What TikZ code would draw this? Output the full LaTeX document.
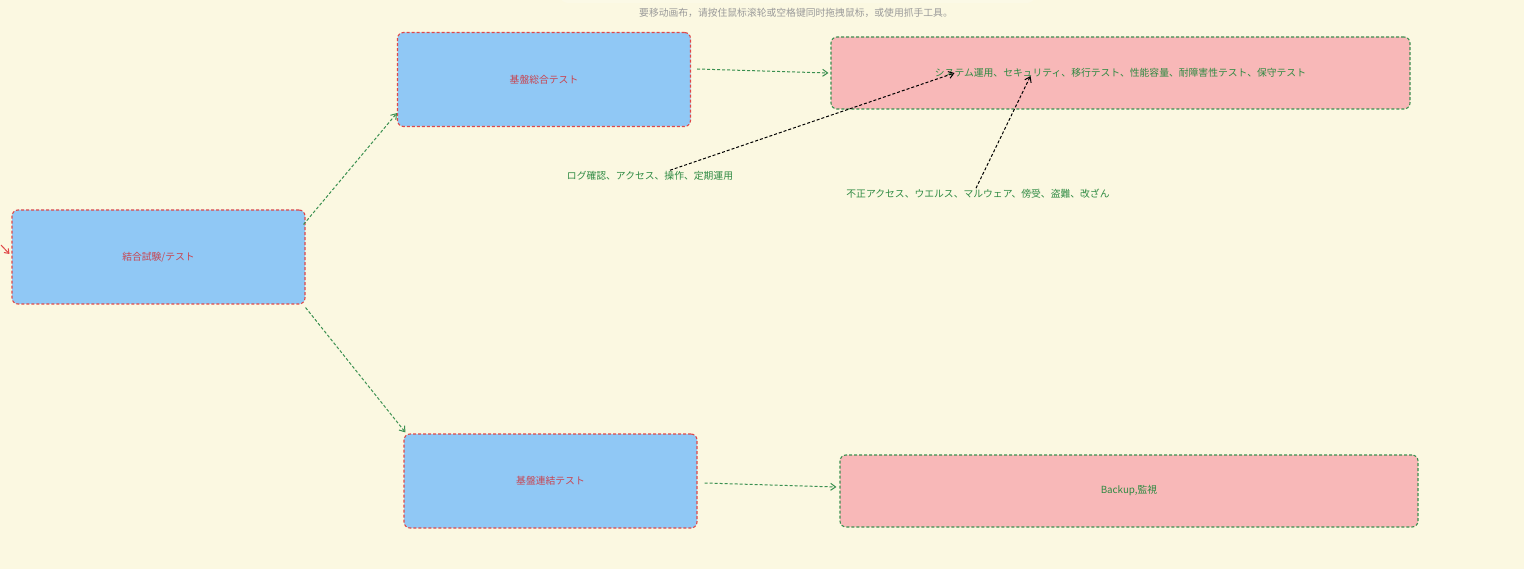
\documentclass[tikz,border=0pt]{standalone}
\usepackage{fontspec}
\setmainfont{Noto Sans CJK JP}
\newfontfamily\scfont{Noto Sans CJK SC}
\usetikzlibrary{arrows.meta,calc}
\definecolor{bgc}{HTML}{FBF8E1}
\definecolor{bluefill}{HTML}{90C8F5}
\definecolor{redline}{HTML}{E04848}
\definecolor{redtext}{HTML}{C84450}
\definecolor{pinkfill}{HTML}{F8B8B8}
\definecolor{greenline}{HTML}{3A9050}
\definecolor{greentext}{HTML}{2E8A42}
\definecolor{greytext}{HTML}{9A9A9A}
\tikzset{
  every node/.style={font=\fontsize{9.8}{12}\selectfont},
  bluebox/.style={draw=redline, fill=bluefill, line width=1.1pt, dash pattern=on 3pt off 2pt,
    rounded corners=6pt, minimum width=293pt, minimum height=94pt, inner sep=0pt, text=redtext},
  pinkbox/.style={draw=greenline, fill=pinkfill, line width=1.1pt, dash pattern=on 3pt off 2pt,
    rounded corners=6pt, minimum width=579pt, minimum height=72pt, inner sep=0pt, text=greentext},
  labeltext/.style={text=greentext, inner sep=2pt},
  garrow/.style={draw=greenline, line width=1pt, dash pattern=on 3pt off 2pt,
    -{Straight Barb[length=5pt,width=7pt,line width=1pt]}},
  karrow/.style={draw=black, line width=1pt, dash pattern=on 3pt off 2pt,
    -{Straight Barb[length=5pt,width=7pt,line width=1pt]}},
  rarrow/.style={draw=redline, line width=1pt,
    -{Straight Barb[length=4pt,width=6pt,line width=1pt]}}
}
\begin{document}
\begin{tikzpicture}[x=1pt,y=-1pt]
\fill[bgc] (0,0) rectangle (1524,569);
\useasboundingbox (0,0) rectangle (1524,569);
\fill[white,opacity=0.18,rounded corners=8pt] (560,-10) rectangle (1035,3);
\node[text=greytext] (hint) at (796,13) {\scfont 要移动画布，请按住鼠标滚轮或空格键同时拖拽鼠标，或使用抓手工具。};

\node[bluebox] (A) at (158.5,257) {結合試験/テスト};
\node[bluebox] (B) at (544,79.5) {基盤総合テスト};
\node[bluebox] (C) at (550.5,481) {基盤連結テスト};
\node[pinkbox] (D) at (1120.5,73) {システム運用、セキュリティ、移行テスト、性能容量、耐障害性テスト、保守テスト};
\node[pinkbox, minimum width=578pt] (E) at (1129,491) {Backup,監視};

\node[labeltext] (L1) at (650,176) {ログ確認、アクセス、操作、定期運用};
\node[labeltext] (L2) at (978,194) {不正アクセス、ウエルス、マルウェア、傍受、盗難、改ざん};

\coordinate (R) at (1,245);
\draw[rarrow] (R) -- ($(A.west)+(-2,-3)$);

\draw[garrow] ($(A.north east)+(-2,15)$) -- ($(B.south west)+(0,-14)$);
\draw[garrow] ($(A.south east)+(0,3)$) -- ($(C.north west)+(2,-1)$);
\draw[garrow] ($(B.east)+(6,-10.5)$) -- ($(D.west)+(-2,0)$);
\draw[garrow] ($(C.east)+(7,2)$) -- ($(E.west)+(-3,-4)$);

\draw[karrow] ($(L1.north)+(20,1)$) -- ($(D.center)+(-166,0)$);
\draw[karrow] ($(L2.north)+(-2,1)$) -- ($(D.center)+(-90,3)$);
\end{tikzpicture}
\end{document}
